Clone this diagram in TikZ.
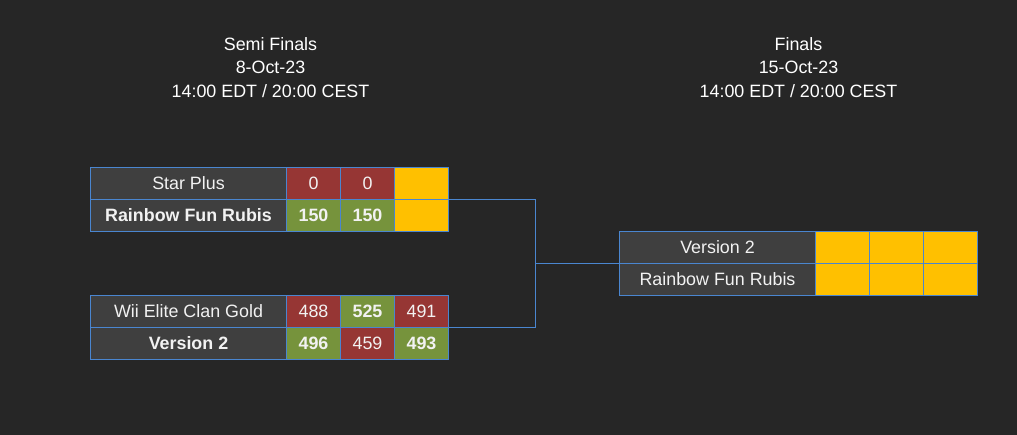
\documentclass[tikz,border=0pt]{standalone}
\usepackage{fontspec}
\setmainfont{Liberation Sans}
\definecolor{bg}{HTML}{262626}
\definecolor{namebg}{HTML}{3F3F3F}
\definecolor{bord}{HTML}{4A86D0}
\definecolor{lossbg}{HTML}{963634}
\definecolor{winbg}{HTML}{76933C}
\definecolor{tbd}{HTML}{FFC000}
\definecolor{txt}{HTML}{F2F2F2}
\tikzset{
  sbcell/.style={draw=bord, line width=1pt, anchor=north west, inner sep=0pt, outer sep=0pt,
    minimum height=24pt, text=txt, font=\fontsize{13.4}{15}\selectfont},
  teamcell/.style={sbcell, fill=namebg, minimum width=147pt},
  teamwin/.style={teamcell, font=\fontsize{13.4}{15}\selectfont\bfseries},
  scorecell/.style={sbcell, minimum width=40.5pt},
  losscell/.style={scorecell, fill=lossbg},
  wincell/.style={scorecell, fill=winbg, font=\fontsize{13.4}{15}\selectfont\bfseries},
  tbdcell/.style={scorecell, fill=tbd},
  roundhead/.style={align=center, text=white, font=\fontsize{13.4}{17.4}\selectfont},
  conn/.style={draw=bord, line width=1pt}
}
\begin{document}
\begin{tikzpicture}[x=0.75pt,y=-0.75pt]
\fill[bg] (0,0) rectangle (1017,435);
\useasboundingbox (0,0) rectangle (1017,435);
\begin{scope}[shift={(0.5,0.5)}]
\node[roundhead] (h1) at (270,67) {Semi Finals\\8-Oct-23\\14:00 EDT / 20:00 CEST};
\node[roundhead] (h2) at (798,67) {Finals\\15-Oct-23\\14:00 EDT / 20:00 CEST};

% Semi final 1
\node[teamcell] (a1) at (90,167) {Star Plus};
\node[losscell] (a1s1) at (286,167) {0};
\node[losscell] (a1s2) at (340,167) {0};
\node[tbdcell] (a1s3) at (394,167) {};
\node[teamwin] (a2) at (90,199) {Rainbow Fun Rubis};
\node[wincell] (a2s1) at (286,199) {150};
\node[wincell] (a2s2) at (340,199) {150};
\node[tbdcell] (a2s3) at (394,199) {};

% Semi final 2
\node[teamcell] (b1) at (90,295) {Wii Elite Clan Gold};
\node[losscell] (b1s1) at (286,295) {488};
\node[wincell] (b1s2) at (340,295) {525};
\node[losscell] (b1s3) at (394,295) {491};
\node[teamwin] (b2) at (90,327) {Version 2};
\node[wincell] (b2s1) at (286,327) {496};
\node[losscell] (b2s2) at (340,327) {459};
\node[wincell] (b2s3) at (394,327) {493};

% Final
\node[teamcell] (f1) at (619,231) {Version 2};
\node[tbdcell] (f1s1) at (815,231) {};
\node[tbdcell] (f1s2) at (869,231) {};
\node[tbdcell] (f1s3) at (923,231) {};
\node[teamcell] (f2) at (619,263) {Rainbow Fun Rubis};
\node[tbdcell] (f2s1) at (815,263) {};
\node[tbdcell] (f2s2) at (869,263) {};
\node[tbdcell] (f2s3) at (923,263) {};

% Connectors
\coordinate (j) at (535,263);
\draw[conn] (a1s3.south east) -| (j);
\draw[conn] (b1s3.south east) -| (j);
\draw[conn] (j) -- (f1.south west);
\end{scope}
\end{tikzpicture}
\end{document}
